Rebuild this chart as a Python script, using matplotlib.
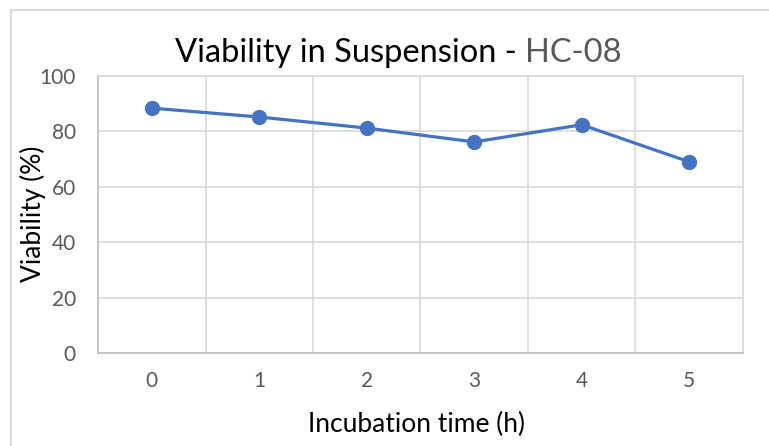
import matplotlib.pyplot as plt
from matplotlib.lines import Line2D
import numpy as np

# data
hours = [0, 1, 2, 3, 4, 5]
viability = [88.4, 85.2, 81.2, 76.2, 82.4, 69.0]
y_ticks = [0, 20, 40, 60, 80, 100]

plt.rcParams['font.family'] = ['Lato', 'DejaVu Sans']

W, H = 769, 446
fig = plt.figure(figsize=(W / 100, H / 100), dpi=100)
ax = fig.add_axes([98 / W, 1 - 353 / H, 645 / W, 277 / H])

grid_col = '#d9d9d9'
text_col = '#595959'

ax.plot(hours, viability, color='#4472c4', lw=2.3, marker='o', ms=10, zorder=3)

ax.set_xlim(-0.5, len(hours) - 0.5)
ax.set_ylim(0, 100)
ax.set_yticks(y_ticks)
ax.set_xticks(hours)
ax.set_xticks(np.arange(-0.5, len(hours)), minor=True)
ax.grid(axis='y', which='major', color=grid_col, lw=1.2)
ax.grid(axis='x', which='minor', color=grid_col, lw=1.2)
ax.tick_params(which='both', length=0)
ax.tick_params(axis='x', pad=13, labelsize=15, labelcolor=text_col)
ax.tick_params(axis='y', pad=16, labelsize=15, labelcolor=text_col)
for s in ax.spines.values():
    s.set_color(grid_col)
    s.set_linewidth(1.2)
ax.spines['left'].set_color('#bfbfbf')
ax.spines['bottom'].set_color('#bfbfbf')

# axis titles
fig.text(417 / W, 1 - 432 / H, 'Incubation time (h)', fontsize=19,
         ha='center', va='baseline')
fig.text(32.5 / W, 1 - 214 / H, 'Viability (%)', fontsize=19,
         ha='center', va='center', rotation=90)

# two-colour title
t1 = fig.text(0, 0, 'Viability in Suspension - ', fontsize=23.5)
t2 = fig.text(0, 0, 'HC-08', fontsize=23.5, color=text_col)
fig.canvas.draw()
r = fig.canvas.get_renderer()
w1 = t1.get_window_extent(r).width
w2 = t2.get_window_extent(r).width
x0 = 398 - (w1 + w2) / 2
y0 = 1 - 62 / H
t1.set_position((x0 / W, y0))
t1.set_va('baseline')
t2.set_position(((x0 + w1) / W, y0))
t2.set_va('baseline')

# chart-area border (only top and left visible)
fig.add_artist(Line2D([11 / W, 1], [1 - 10 / H] * 2, color=grid_col, lw=1.5))
fig.add_artist(Line2D([11 / W] * 2, [0, 1 - 10 / H], color=grid_col, lw=1.5))

fig.savefig('out.png', dpi=100)
